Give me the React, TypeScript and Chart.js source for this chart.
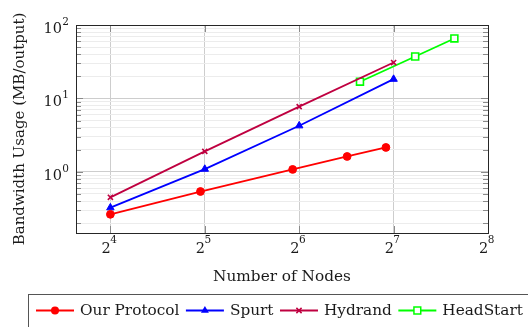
import React, { useEffect, useRef } from "react";
import { Chart, registerables } from "chart.js";

Chart.register(...registerables);

// ---- data ----
const ourProtocolNodes = [16, 31, 61, 91, 121];
const ourProtocolUsage = [0.264, 0.54, 1.08, 1.62, 2.15];

const spurtNodes = [16, 32, 64, 128];
const spurtUsage = [0.325, 1.09, 4.25, 18.3];

const hydrandNodes = [16, 32, 64, 128];
const hydrandUsage = [0.45, 1.9, 7.73, 30.8];

const headStartNodes = [100, 150, 200];
const headStartUsage = [16.9, 37.2, 65.6];

const seriesNames = ["Our Protocol", "Spurt", "Hydrand", "HeadStart"];

// tick labels: 2^k on x, 10^k on y
const xTickExponents = [4, 5, 6, 7, 8];
const yTickExponents = [0, 1, 2];
const yMinorMultipliers = [1, 2, 3, 4, 5, 6, 7, 8, 9];
const yDecades = [-1, 0, 1, 2];

const xMin = 12.43;
const xMax = 256;
const yMin = 0.147;
const yMax = 100;

const FONT = "'DejaVu Serif', serif";

const pts = (xs: number[], ys: number[]) => xs.map((x, i) => ({ x, y: ys[i] }));

type Marker = "circle" | "triangle" | "crossRot" | "rect";

function drawMarker(ctx: CanvasRenderingContext2D, kind: Marker, x: number, y: number, color: string) {
  ctx.save();
  ctx.strokeStyle = color;
  ctx.fillStyle = color;
  ctx.lineWidth = 1.5;
  ctx.beginPath();
  if (kind === "circle") {
    ctx.arc(x, y, 4, 0, Math.PI * 2);
    ctx.fill();
  } else if (kind === "triangle") {
    const r = 4.6;
    ctx.moveTo(x, y - r);
    ctx.lineTo(x + r * 0.866, y + r * 0.5);
    ctx.lineTo(x - r * 0.866, y + r * 0.5);
    ctx.closePath();
    ctx.fill();
  } else if (kind === "crossRot") {
    const r = 2.6;
    ctx.moveTo(x - r, y - r);
    ctx.lineTo(x + r, y + r);
    ctx.moveTo(x + r, y - r);
    ctx.lineTo(x - r, y + r);
    ctx.stroke();
  } else {
    const s = 3.4;
    ctx.fillStyle = "#ffffff";
    ctx.rect(x - s, y - s, 2 * s, 2 * s);
    ctx.fill();
    ctx.stroke();
  }
  ctx.restore();
}

const colors = ["#ff0000", "#0000ff", "#bf0040", "#00ff00"];
const markers: Marker[] = ["circle", "triangle", "crossRot", "rect"];

const axesPlugin = {
  id: "pgfAxes",
  beforeDatasetsDraw(chart: any) {
    const { ctx, chartArea } = chart;
    const { left, right, top, bottom } = chartArea;
    const ys = chart.scales.y;
    const xs = chart.scales.x;
    ctx.save();
    ctx.strokeStyle = "#8a8a8a";
    ctx.lineWidth = 1;
    ys.ticks.forEach((t: any) => {
      const y = Math.round(ys.getPixelForValue(t.value)) + 0.5;
      const major = Math.abs(Math.log10(t.value) - Math.round(Math.log10(t.value))) < 1e-9;
      const len = major ? 7 : 5;
      ctx.beginPath();
      ctx.moveTo(left, y);
      ctx.lineTo(left + len, y);
      ctx.moveTo(right, y);
      ctx.lineTo(right - len, y);
      ctx.stroke();
    });
    xs.ticks.forEach((t: any) => {
      const x = Math.round(xs.getPixelForValue(t.value)) + 0.5;
      ctx.beginPath();
      ctx.moveTo(x, bottom);
      ctx.lineTo(x, bottom - 7);
      ctx.moveTo(x, top);
      ctx.lineTo(x, top + 7);
      ctx.stroke();
    });
    ctx.strokeStyle = "#262626";
    ctx.lineWidth = 1;
    ctx.strokeRect(Math.round(left) + 0.5, Math.round(top) + 0.5, Math.round(right - left), Math.round(bottom - top));
    ctx.restore();
  },
  afterDraw(chart: any) {
    const { ctx, chartArea } = chart;
    const { left, bottom } = chartArea;
    const ys = chart.scales.y;
    const xs = chart.scales.x;
    const baseFont = `14.5px ${FONT}`;
    const expFont = `10.5px ${FONT}`;
    ctx.save();
    ctx.fillStyle = "#1a1a1a";
    ctx.textBaseline = "alphabetic";
    yTickExponents.forEach((e) => {
      const y = ys.getPixelForValue(Math.pow(10, e));
      ctx.font = expFont;
      const es = String(e);
      const ew = ctx.measureText(es).width;
      ctx.textAlign = "right";
      const rx = left - 7;
      ctx.fillText(es, rx, y - 0.3);
      ctx.font = baseFont;
      ctx.fillText("10", rx - ew - 0.3, y + 8);
    });
    xTickExponents.forEach((e) => {
      const x = xs.getPixelForValue(Math.pow(2, e));
      ctx.font = baseFont;
      const bw = ctx.measureText("2").width;
      ctx.font = expFont;
      const es = String(e);
      const ew = ctx.measureText(es).width;
      const start = x - (bw + ew) / 2 - 1;
      ctx.textAlign = "left";
      ctx.font = baseFont;
      ctx.fillText("2", start, bottom + 19.6);
      ctx.font = expFont;
      ctx.fillText(es, start + bw - 0.5, bottom + 10.3);
    });

    // legend box
    ctx.strokeStyle = "#555555";
    ctx.lineWidth = 1;
    ctx.strokeRect(28.5, 294.5, 560, 60);
    let cx = 36;
    const cy = 310.5;
    ctx.font = `15.3px ${FONT}`;
    ctx.textAlign = "left";
    ctx.textBaseline = "middle";
    seriesNames.forEach((name, i) => {
      ctx.strokeStyle = colors[i];
      ctx.lineWidth = 1.8;
      ctx.beginPath();
      ctx.moveTo(cx, cy);
      ctx.lineTo(cx + 38, cy);
      ctx.stroke();
      drawMarker(ctx, markers[i], cx + 19, cy, colors[i]);
      ctx.fillStyle = "#1a1a1a";
      ctx.fillText(name, cx + 44, cy + 0.5);
      cx = cx + 44 + ctx.measureText(name).width + 6.5;
    });
    ctx.restore();
  },
};

function buildYTicks(): number[] {
  const out: number[] = [];
  yDecades.forEach((d) => {
    yMinorMultipliers.forEach((m) => {
      const v = m * Math.pow(10, d);
      if (v >= yMin - 1e-9 && v <= yMax + 1e-9) out.push(v);
    });
  });
  return out;
}

export default function App() {
  const ref = useRef<HTMLCanvasElement | null>(null);

  useEffect(() => {
    if (!ref.current) return;
    Chart.defaults.font.family = FONT;
    const yTickVals = buildYTicks();
    const xTickVals = xTickExponents.map((e) => Math.pow(2, e));

    const mk = (label: string, xsArr: number[], ysArr: number[], i: number) => ({
      label,
      data: pts(xsArr, ysArr),
      borderColor: colors[i],
      backgroundColor: markers[i] === "rect" ? "#ffffff" : colors[i],
      pointBorderColor: colors[i],
      pointBackgroundColor: markers[i] === "rect" ? "#ffffff" : colors[i],
      borderWidth: 1.8,
      pointBorderWidth: markers[i] === "crossRot" || markers[i] === "rect" ? 1.6 : 1,
      pointStyle: markers[i],
      pointRadius: markers[i] === "circle" ? 3.9 : markers[i] === "triangle" ? 4.3 : markers[i] === "rect" ? 4.9 : 3.6,
      showLine: true,
      fill: false,
      tension: 0,
    });

    const chart = new Chart(ref.current, {
      type: "scatter",
      data: {
        datasets: [
          mk(seriesNames[0], ourProtocolNodes, ourProtocolUsage, 0),
          mk(seriesNames[1], spurtNodes, spurtUsage, 1),
          mk(seriesNames[2], hydrandNodes, hydrandUsage, 2),
          mk(seriesNames[3], headStartNodes, headStartUsage, 3),
        ],
      },
      options: {
        animation: false,
        responsive: false,
        devicePixelRatio: 1,
        layout: { padding: { left: 0, top: 25, right: 40, bottom: 41 } },
        plugins: { legend: { display: false }, title: { display: false }, tooltip: { enabled: false } },
        scales: {
          x: {
            type: "logarithmic",
            min: xMin,
            max: xMax,
            bounds: "data",
            afterBuildTicks: (s: any) => {
              s.ticks = xTickVals.map((v) => ({ value: v }));
            },
            afterFit: (s: any) => {
              s.height = 53;
            },
            ticks: { display: false },
            grid: { color: "#cdcdcd", lineWidth: 1, drawTicks: false },
            border: { display: false },
            title: {
              display: true,
              text: "Number of Nodes",
              color: "#1a1a1a",
              font: { family: FONT, size: 15.3 },
              padding: { top: 0, bottom: 0 },
            },
          },
          y: {
            type: "logarithmic",
            min: yMin,
            max: yMax,
            bounds: "data",
            afterBuildTicks: (s: any) => {
              s.ticks = yTickVals.map((v) => ({ value: v }));
            },
            afterFit: (s: any) => {
              s.width = 76;
            },
            ticks: { display: false },
            grid: {
              drawTicks: false,
              lineWidth: 1,
              color: (c: any) => {
                const v = c.tick ? c.tick.value : 1;
                const l = Math.log10(v);
                return Math.abs(l - Math.round(l)) < 1e-9 ? "#cdcdcd" : "#ececec";
              },
            },
            border: { display: false },
            title: {
              display: true,
              text: "Bandwidth Usage (MB/output)",
              color: "#1a1a1a",
              font: { family: FONT, size: 15 },
              padding: { top: 11, bottom: 0 },
            },
          },
        },
      },
      plugins: [axesPlugin],
    } as any);
    return () => chart.destroy();
  }, []);

  return (
    <div style={{ position: "fixed", left: 0, top: 0, width: 528, height: 327, background: "#ffffff" }}>
      <canvas ref={ref} width={528} height={327} style={{ display: "block", width: 528, height: 327 }} />
    </div>
  );
}
